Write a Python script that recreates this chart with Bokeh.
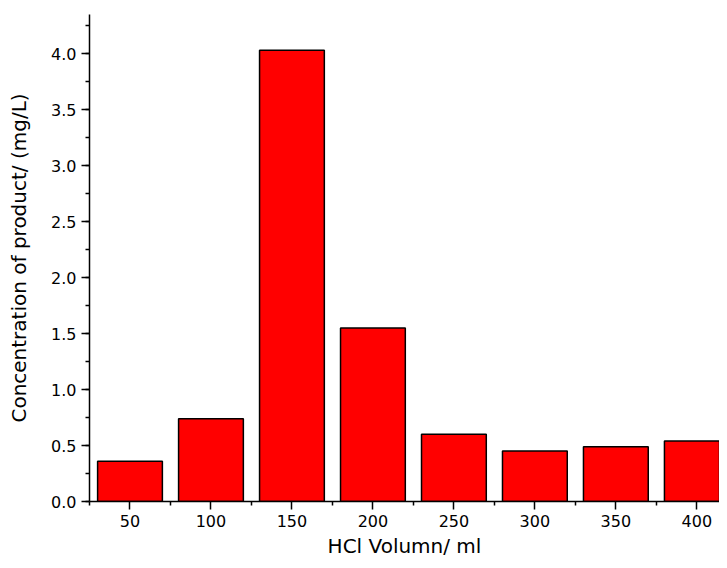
from bokeh.plotting import figure
from bokeh.models import Range1d, FixedTicker, SingleIntervalTicker, NumeralTickFormatter
from bokeh.embed import file_html
from bokeh.resources import INLINE

volumes = [50, 100, 150, 200, 250, 300, 350, 400]
concentration = [0.36, 0.74, 4.03, 1.55, 0.60, 0.45, 0.49, 0.54]
x_ticks = [50, 100, 150, 200, 250, 300, 350, 400]
x_minor = [25, 75, 125, 175, 225, 275, 325, 375]

p = figure(width=719, height=560, output_backend="svg", toolbar_location=None,
           x_range=Range1d(25, 414), y_range=Range1d(0, 4.35),
           min_border_left=89, min_border_right=0, min_border_top=14, min_border_bottom=58)
p.outline_line_color = None
p.xgrid.visible = False
p.ygrid.visible = False

p.vbar(x=volumes, top=concentration, width=40, bottom=0,
       fill_color="#ff0000", line_color="black", line_width=1.5)

p.xaxis.ticker = FixedTicker(ticks=x_ticks, minor_ticks=x_minor)
p.yaxis.ticker = SingleIntervalTicker(interval=0.5, num_minor_ticks=2)
p.yaxis.formatter = NumeralTickFormatter(format="0.0")

for ax in (p.xaxis[0], p.yaxis[0]):
    ax.axis_line_width = 1.5
    ax.axis_line_color = "black"
    ax.major_tick_line_width = 1.5
    ax.minor_tick_line_width = 1.5
    ax.major_tick_out = 8
    ax.major_tick_in = 0
    ax.minor_tick_out = 4
    ax.minor_tick_in = 0
    ax.major_label_text_font = "DejaVu Sans"
    ax.major_label_text_font_size = "16px"
    ax.major_label_text_color = "black"
    ax.axis_label_text_font = "DejaVu Sans"
    ax.axis_label_text_font_size = "20px"
    ax.axis_label_text_font_style = "normal"
    ax.axis_label_text_color = "black"

p.xaxis.axis_label = "HCl Volumn/ ml"
p.yaxis.axis_label = "Concentration of product/ (mg/L)"
p.xaxis.major_label_standoff = 5
p.yaxis.major_label_standoff = 5
p.xaxis.axis_label_standoff = 4
p.yaxis.axis_label_standoff = 17

open("out.html", "w").write(file_html(p, INLINE))
